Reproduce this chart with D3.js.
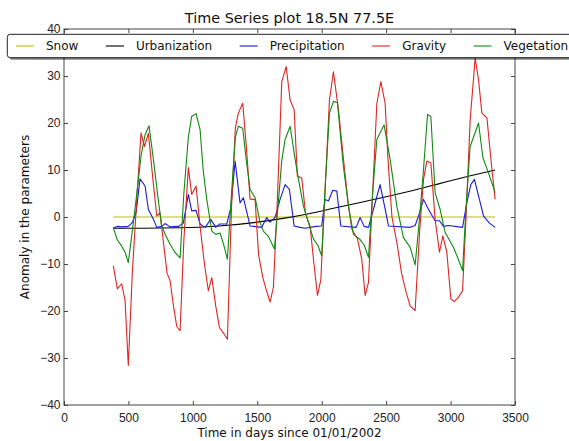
<!DOCTYPE html>
<html>
<head>
<meta charset="utf-8">
<script src="https://cdn.jsdelivr.net/npm/d3@7"></script>
<style>
    body { margin: 0; background: #fff; }
    svg { display: block; font-family: "DejaVu Sans", sans-serif; }
</style>
</head>
<body>
<svg width="569" height="441"></svg>
<script>
// values, each point is [day, anomaly]
const snow = [[383, 0], [3346, 0]];

const urbanization = [[383, -2.4], [600, -2.4], [900, -2.3], [1200, -1.9], [1500, -1.1], [1700, -0.3],
    [1900, 0.7], [2100, 1.9], [2300, 3.1], [2500, 4.3], [2700, 5.6], [2900, 7.0], [3100, 8.4], [3346, 10.0]];

const precipitation = [[383, -2.3], [414, -2.0], [448, -2.1], [499, -2.0], [530, -1.2], [560, 1], [590, 8.1],
    [629, 6.6], [655, 1.6], [694, -0.5], [720, -2.2], [760, -2.0], [784, -1.4], [823, -2.1], [888, -2.0],
    [926, -1.3], [965, 4.8], [991, 1.3], [1025, 1.4], [1056, -1.5], [1095, -2.2], [1139, -0.5], [1178, -2.2],
    [1206, -1.5], [1263, -1.5], [1295, 2], [1328, 11.9], [1366, 3.0], [1392, 4.1], [1444, -1.9], [1535, -2.2],
    [1573, -0.1], [1599, -1.1], [1638, -0.1], [1677, 3.75], [1716, 6.9], [1749, 5.9], [1786, -1.9], [1832, -2.2],
    [1870, -2.4], [1957, -2.0], [2000, -1.9], [2026, 3.75], [2052, 3.4], [2086, 5.7], [2117, 5.5], [2148, -1.9],
    [2267, -2.2], [2298, -0.1], [2329, -2.0], [2363, -2.2], [2410, 2.5], [2453, 6.9], [2490, 2], [2518, -1.9],
    [2686, -2.2], [2725, -1.8], [2751, 0.2], [2790, 3.75], [2829, 1.6], [2880, -0.8], [2914, -0.8], [2945, -2.0],
    [2984, -1.8], [3093, -2.2], [3126, 3.0], [3157, 6.9], [3185, 8.0], [3217, 4.5], [3256, 0.2], [3302, -1.3],
    [3346, -2.2]];

const gravity = [[383, -10.4], [414, -15.3], [448, -14.2], [474, -17.8], [499, -31.6], [530, -12], [565, 4],
    [598, 17.9], [624, 15.0], [655, 17.8], [690, 8], [720, 0.2], [745, 0.9], [770, -5], [800, -12], [823, -13.5],
    [850, -19], [875, -23.3], [901, -24.2], [930, -5], [965, 10.5], [991, 4.8], [1025, 6.6], [1056, -2],
    [1090, -10], [1120, -15.7], [1147, -12.9], [1178, -19], [1206, -23.5], [1240, -24.8], [1268, -26.0],
    [1300, 2], [1330, 19], [1353, 22.1], [1387, 24.2], [1415, 15], [1444, 3.8], [1483, 3.7], [1510, -8],
    [1543, -12.9], [1570, -15.5], [1599, -18.1], [1625, -15.0], [1655, 3], [1690, 28.8], [1724, 32.0],
    [1755, 24.9], [1786, 22.8], [1811, 8.7], [1845, 8.3], [1875, 0.6], [1910, -2], [1940, -10], [1967, -16.7],
    [1993, -13.4], [2025, 5], [2060, 24.9], [2091, 30.9], [2130, 22.8], [2170, 12], [2208, 2.3], [2234, -2.6],
    [2278, -4.7], [2311, -9.0], [2337, -16.7], [2363, -13.9], [2395, 5], [2428, 24.2], [2459, 28.8],
    [2492, 24.2], [2515, 12], [2545, 0], [2583, -5.4], [2620, -12], [2655, -16], [2686, -18.9], [2725, -19.9],
    [2760, -3], [2790, 8], [2816, 11.9], [2847, 11.5], [2880, -0.5], [2914, -7.5], [2940, -4.0], [2971, -7.5],
    [3002, -17.4], [3028, -18.0], [3061, -17.1], [3093, -15.7], [3120, 0], [3152, 20.7], [3191, 33.8],
    [3217, 29.2], [3243, 22.1], [3282, 21.1], [3321, 10.1], [3346, 3.75]];

const vegetation = [[383, -2.3], [414, -4.9], [448, -6.2], [474, -7.5], [499, -9.7], [530, -3], [565, 5],
    [598, 13], [629, 17.5], [660, 19.4], [694, 12.2], [730, 4], [758, -1.9], [790, -4], [823, -5.8], [860, -7.5],
    [901, -8.7], [930, 5], [965, 17], [991, 21.4], [1025, 22.0], [1056, 18.6], [1080, 10], [1108, 3.7],
    [1147, -3.0], [1178, -3.7], [1211, -3.4], [1240, -6], [1268, -9.0], [1300, 5], [1330, 17], [1353, 19.3],
    [1387, 18.9], [1415, 12], [1444, 5.9], [1483, 4.1], [1522, -1.2], [1547, -3.0], [1586, -4.1], [1633, -6.8],
    [1660, 2], [1690, 12], [1716, 16.5], [1755, 19.3], [1786, 13.6], [1816, 8.6], [1858, 2.3], [1897, -1.2],
    [1936, -4.7], [1970, -6], [2000, -8.3], [2030, 8], [2060, 22.1], [2091, 24.6], [2122, 24.3], [2168, 10.8],
    [2208, 2.3], [2246, -3.7], [2298, -4.8], [2330, -6], [2363, -8.6], [2395, 5], [2428, 16.5], [2484, 19.6],
    [2531, 12.2], [2583, 2.3], [2634, -4.4], [2686, -6.4], [2725, -10.2], [2760, 0], [2790, 10.1], [2821, 21.8],
    [2847, 21.4], [2880, 5.2], [2919, 1.6], [2958, -3.3], [3023, -6.5], [3060, -9], [3093, -11.4], [3120, 2],
    [3152, 15.0], [3217, 20.0], [3251, 12.6], [3294, 9.4], [3346, 5.2]];

const seriesNames = ['Snow', 'Urbanization', 'Precipitation', 'Gravity', 'Vegetation'];
const xTicks = [0, 500, 1000, 1500, 2000, 2500, 3000, 3500];
const yTicks = [-40, -30, -20, -10, 0, 10, 20, 30, 40];

const drawChart = () => {

    var width = 569;
    var height = 441;
    var margin = { top: 29, right: 54, bottom: 36, left: 64 };
    var colors = ['#bfbf00', '#000000', '#1a1ad6', '#e02424', '#108a10'];
    var allSeries = [snow, urbanization, precipitation, gravity, vegetation];

    var svg = d3.select('svg');

    var xScale = d3.scaleLinear()
        .domain([0, 3500])
        .range([margin.left, width - margin.right]);

    var yScale = d3.scaleLinear()
        .domain([-40, 40])
        .range([height - margin.bottom, margin.top]);

    // lines first, the legend sits on top of them
    var line = d3.line()
        .x(d => xScale(d[0]))
        .y(d => yScale(d[1]));

    allSeries.forEach((data, i) => {
        svg.append('path')
            .datum(data)
            .attr('fill', 'none')
            .attr('stroke', colors[i])
            .attr('stroke-width', 1.1)
            .attr('stroke-linejoin', 'round')
            .attr('d', i === 1 ? line.curve(d3.curveMonotoneX)(data) : line.curve(d3.curveLinear)(data));
    });

    // matplotlib classic: ticks point inward on all four sides
    var styleAxis = g => {
        g.select('.domain').remove();
        g.selectAll('line').attr('stroke', '#444');
        g.selectAll('text').attr('fill', '#222').style('font-size', '12px');
    };

    svg.append('g')
        .attr('transform', 'translate(' + [0, height - margin.bottom] + ')')
        .call(d3.axisBottom(xScale).tickValues(xTicks).tickFormat(d3.format('d'))
            .tickSizeInner(-4).tickSizeOuter(0).tickPadding(8))
        .call(styleAxis);

    svg.append('g')
        .attr('transform', 'translate(' + [0, margin.top] + ')')
        .call(d3.axisTop(xScale).tickValues(xTicks).tickSizeInner(-4).tickSizeOuter(0).tickFormat(''))
        .call(styleAxis);

    svg.append('g')
        .attr('transform', 'translate(' + [margin.left, 0] + ')')
        .call(d3.axisLeft(yScale).tickValues(yTicks).tickSizeInner(-4).tickSizeOuter(0).tickPadding(3.5))
        .call(styleAxis);

    svg.append('g')
        .attr('transform', 'translate(' + [width - margin.right, 0] + ')')
        .call(d3.axisRight(yScale).tickValues(yTicks).tickSizeInner(-4).tickSizeOuter(0).tickFormat(''))
        .call(styleAxis);

    svg.append('rect')
        .attr('x', margin.left)
        .attr('y', margin.top)
        .attr('width', width - margin.left - margin.right)
        .attr('height', height - margin.top - margin.bottom)
        .attr('fill', 'none')
        .attr('stroke', '#444')
        .attr('stroke-width', 1);

    // texts
    svg.append('text')
        .attr('x', (margin.left + width - margin.right) / 2)
        .attr('y', 23)
        .attr('text-anchor', 'middle')
        .style('font-size', '14.4px')
        .attr('fill', '#111')
        .text('Time Series plot 18.5N 77.5E');

    svg.append('text')
        .attr('x', (margin.left + width - margin.right) / 2)
        .attr('y', 437)
        .attr('text-anchor', 'middle')
        .style('font-size', '12px')
        .attr('fill', '#111')
        .text('Time in days since 01/01/2002');

    svg.append('text')
        .attr('transform', 'translate(' + [25, (margin.top + height - margin.bottom) / 2] + ') rotate(-90)')
        .attr('dy', '0.35em')
        .attr('text-anchor', 'middle')
        .style('font-size', '12px')
        .attr('fill', '#111')
        .text('Anomaly in the parameters');

    // legend in one row, wider than the figure so it runs off the right edge
    var legend = svg.append('g');
    var shadow = legend.append('rect');
    var box = legend.append('rect');
    var legendY = 46;
    var lx = 16;

    seriesNames.forEach((name, i) => {
        legend.append('line')
            .attr('x1', lx).attr('x2', lx + 18)
            .attr('y1', legendY).attr('y2', legendY)
            .attr('stroke', colors[i])
            .attr('stroke-width', 1.1);
        var t = legend.append('text')
            .attr('x', lx + 30)
            .attr('y', legendY)
            .attr('dy', '0.35em')
            .style('font-size', '12px')
            .attr('fill', '#111')
            .text(name);
        lx = lx + 30 + t.node().getComputedTextLength() + 27.5;
    });

    var boxRight = lx - 27.5 + 8;
    shadow
        .attr('x', 9.3).attr('y', 36.3)
        .attr('width', boxRight - 7.3).attr('height', 23.4)
        .attr('rx', 3)
        .attr('fill', '#000').attr('fill-opacity', 0.5);
    box
        .attr('x', 7.3).attr('y', 34.3)
        .attr('width', boxRight - 7.3).attr('height', 23.4)
        .attr('rx', 3)
        .attr('fill', '#fff')
        .attr('stroke', '#222')
        .attr('stroke-width', 1);
};

drawChart();
</script>
</body>
</html>
